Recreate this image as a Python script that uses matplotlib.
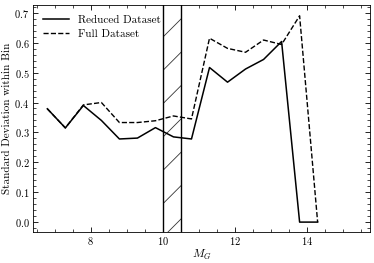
import matplotlib

matplotlib.use("Agg")
import matplotlib.pyplot as plt
from matplotlib.ticker import MultipleLocator

# bin centres in M_G and per-bin standard deviations
mg = [6.8, 7.3, 7.8, 8.3, 8.8, 9.3, 9.8, 10.3, 10.8, 11.3, 11.8, 12.3, 12.8, 13.3, 13.8, 14.3]
std_reduced = [0.379, 0.315, 0.390, 0.340, 0.278, 0.281, 0.316, 0.285, 0.278,
               0.517, 0.468, 0.512, 0.544, 0.604, 0.0, 0.0]
std_full = [0.379, 0.315, 0.392, 0.400, 0.333, 0.333, 0.339, 0.355, 0.345,
            0.615, 0.581, 0.568, 0.609, 0.594, 0.690, 0.0]
gap = (10.0, 10.5)

plt.rcParams.update({
    "font.family": "serif",
    "font.serif": ["cmr10"],
    "mathtext.fontset": "cm",
    "axes.formatter.use_mathtext": True,
    "axes.unicode_minus": False,
    "font.size": 8,
    "hatch.linewidth": 0.6,
})

fig, ax = plt.subplots(figsize=(3.74, 2.63), dpi=100)
ax.plot(mg, std_full, "k--", lw=1.0, label="Full Dataset")
ax.plot(mg, std_reduced, "k-", lw=1.1, label="Reduced Dataset")
ax.axvspan(*gap, facecolor="none", edgecolor="0.2", hatch="/", lw=0)
ax.axvline(gap[0], color="k", lw=1.0)
ax.axvline(gap[1], color="k", lw=1.0)

ax.set_xlim(6.4, 15.75)
ax.set_ylim(-0.033, 0.727)
ax.xaxis.set_major_locator(MultipleLocator(2))
ax.xaxis.set_minor_locator(MultipleLocator(0.5))
ax.yaxis.set_major_locator(MultipleLocator(0.1))
ax.yaxis.set_minor_locator(MultipleLocator(0.02))
ax.tick_params(which="both", direction="in", top=True, right=True, labelsize=7.5)
ax.tick_params(which="major", length=3.5, width=0.6, pad=2.5)
ax.tick_params(which="minor", length=2, width=0.5)
for s in ax.spines.values():
    s.set_linewidth(0.6)

ax.set_xlabel(r"$M_G$", fontsize=8.5, labelpad=0.5)
ax.set_ylabel("Standard Deviation within Bin", fontsize=8, labelpad=2)
h, l = ax.get_legend_handles_labels()
ax.legend(h[::-1], l[::-1], loc="upper left", frameon=False, fontsize=8,
          handlelength=2.35, handletextpad=0.8, labelspacing=0.45)

fig.subplots_adjust(left=0.088, right=0.989, bottom=0.118, top=0.982)
fig.savefig("out.png", dpi=100)
